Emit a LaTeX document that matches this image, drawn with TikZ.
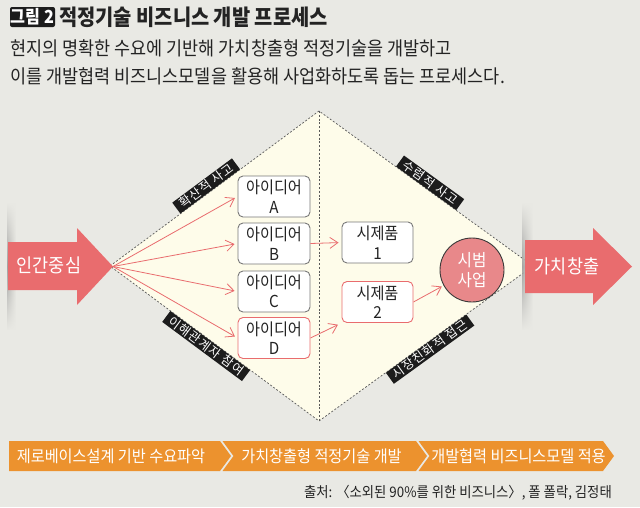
\documentclass[tikz,border=0pt]{standalone}
\usepackage{fontspec}
\setmainfont{Noto Sans CJK KR}[FakeStretch=0.92]
\newfontfamily\titlefont{Noto Sans CJK KR}[FakeStretch=0.9]
\newfontfamily\bandfont{Noto Sans CJK KR}[LetterSpace=8]
\usetikzlibrary{arrows.meta, fadings}

\definecolor{bggray}{RGB}{233,233,228}
\definecolor{cream}{RGB}{254,252,234}
\definecolor{arrowred}{RGB}{233,108,110}
\definecolor{bizpink}{RGB}{232,136,138}
\definecolor{barorange}{RGB}{236,146,46}
\definecolor{bandblack}{RGB}{28,28,28}
\definecolor{boxgray}{RGB}{120,120,120}
\definecolor{textdark}{RGB}{35,35,35}
\tikzfading[name=fadeends, top color=transparent!100, bottom color=transparent!100, middle color=transparent!0]

\begin{document}
\begin{tikzpicture}[x=1pt, y=-1pt, >={Straight Barb[length=8pt, width=11pt]},
  idea/.style={draw=boxgray, line width=0.9pt, fill=white, rounded corners=5pt,
    minimum width=72pt, minimum height=41pt, align=center, inner sep=0pt,
    text=textdark, font=\fontsize{16.5}{19.5}\selectfont},
  flow/.style={->, arrowred, line width=0.8pt, shorten >=3pt},
  band/.style={fill=bandblack, text=white, font=\bandfont\fontsize{12.5}{12.5}\selectfont,
    inner xsep=5pt, inner ysep=0.3pt, text height=11pt, text depth=2pt},
  diamondline/.style={draw=gray!70!black, line width=0.7pt, dash pattern=on 2pt off 1.8pt},
  bigtext/.style={text=white, font=\fontsize{19}{19}\selectfont, inner sep=0pt},
  bartext/.style={text=white, font=\fontsize{16.5}{16.5}\selectfont, inner sep=0pt}]

  % --- 1. 배경 ---
  \fill[bggray] (0,0) rectangle (640,507);
  \useasboundingbox (0,0) rectangle (640,507);

  % --- 2. 제목과 설명 ---
  \node[fill=bandblack, text=white, rounded corners=2pt, minimum width=45pt, minimum height=20pt,
    inner sep=0pt, font=\titlefont\bfseries\fontsize{18}{18}\selectfont] (figtag) at (32.5,17) {그림 2};
  \node[anchor=west, inner sep=0pt, text=textdark,
    font=\titlefont\bfseries\fontsize{22}{22}\selectfont] (title) at (59,17) {적정기술 비즈니스 개발 프로세스};
  \node[anchor=west, align=left, inner sep=0pt, text=textdark,
    font=\fontsize{19}{28}\selectfont] (lead) at (10,62)
    {현지의 명확한 수요에 기반해 가치창출형 적정기술을 개발하고\\이를 개발협력 비즈니스모델을 활용해 사업화하도록 돕는 프로세스다.};

  % --- 3. 마름모 (확산 -> 수렴) ---
  \coordinate (L) at (110,266);
  \coordinate (T) at (319,111);
  \coordinate (R) at (533,266);
  \coordinate (B) at (319,421);
  \fill[cream] (L) -- (T) -- (R) -- (B) -- cycle;
  \draw[diamondline] (L) -- (T) -- (R) -- (B) -- cycle;
  \draw[diamondline] (T) -- (B);

  % 모서리의 검은 띠 라벨 (바깥쪽에 붙임)
  \path (L) -- (T) node[band, pos=0.48, rotate=36.56, anchor=south] (diverge) {확산적 사고};
  \path (L) -- (B) node[band, pos=0.48, rotate=-36.56, anchor=north] (stake) {이해관계자 참여};
  \path (T) -- (R) node[band, pos=0.5, rotate=-35.9, anchor=south] (converge) {수렴적 사고};
  \path (B) -- (R) node[band, pos=0.5, rotate=35.9, anchor=north] (market) {시장친화적 접근};

  % --- 4. 양쪽 큰 화살표와 그림자 ---
  \shade[left color=gray!65!bggray, right color=bggray, path fading=fadeends] (7,203) rectangle (16,330);
  \shade[left color=gray!65!bggray, right color=bggray, path fading=fadeends] (522,203) rectangle (533,330);

  \fill[arrowred] (8,242) -- (77,242) -- (77,228) -- (113,266.5) -- (77,305) -- (77,290) -- (8,290) -- cycle;
  \node[bigtext] (human) at (49,265) {인간중심};
  \coordinate (hub) at (113,266.5);

  \fill[arrowred] (525,240) -- (593,240) -- (593,228) -- (632,266.5) -- (593,305) -- (593,293) -- (525,293) -- cycle;
  \node[bigtext] (value) at (567,266) {가치창출};

  % --- 5. 아이디어 -> 시제품 -> 시범사업 ---
  \foreach \n/\y in {A/196.5, B/243.5, C/291.5}
    \node[idea] (idea\n) at (274,\y) {아이디어\\\n};
  \node[idea, draw=arrowred] (ideaD) at (274,338) {아이디어\\D};
  \foreach \n in {A,B,C,D}
    \draw[flow] (hub) -- (idea\n.west);

  \node[idea, minimum width=71pt] (proto1) at (377.5,242.5) {시제품\\1};
  \node[idea, minimum width=71pt, draw=arrowred] (proto2) at (377.5,302) {시제품\\2};
  \node[circle, draw=gray!45!black, line width=0.9pt, fill=bizpink, minimum size=64pt,
    inner sep=0pt, align=center, text=white, font=\fontsize{17}{20.5}\selectfont] (pilot) at (472,270) {시범\\사업};

  \draw[flow] (ideaB.east) -- (proto1.west);
  \draw[flow, shorten >=4pt] (ideaD.east) -- (proto2.south west);
  \draw[flow, shorten >=2pt] (proto2.east) -- (pilot);

  % --- 6. 하단 단계 막대 ---
  \fill[barorange] (9,441) -- (220,441) -- (231,456) -- (220,471) -- (9,471) -- cycle;
  \foreach \xa/\xb in {222.5/416, 418.5/603}
    \fill[barorange] (\xa,441) -- (\xb,441) -- (\xb+11,456) -- (\xb,471) -- (\xa,471) -- (\xa+11,456) -- cycle;
  \node[bartext] (step1) at (111,456) {제로베이스설계 기반 수요파악};
  \node[bartext] (step2) at (321.5,456) {가치창출형 적정기술 개발};
  \node[bartext] (step3) at (518.5,456) {개발협력 비즈니스모델 적용};

  % 출처
  \node[anchor=east, inner sep=0pt, text=textdark, font=\fontsize{14.5}{14.5}\selectfont] (source) at (612,493)
    {출처: 〈소외된 90\%를 위한 비즈니스〉, 폴 폴락, 김정태};

\end{tikzpicture}
\end{document}
